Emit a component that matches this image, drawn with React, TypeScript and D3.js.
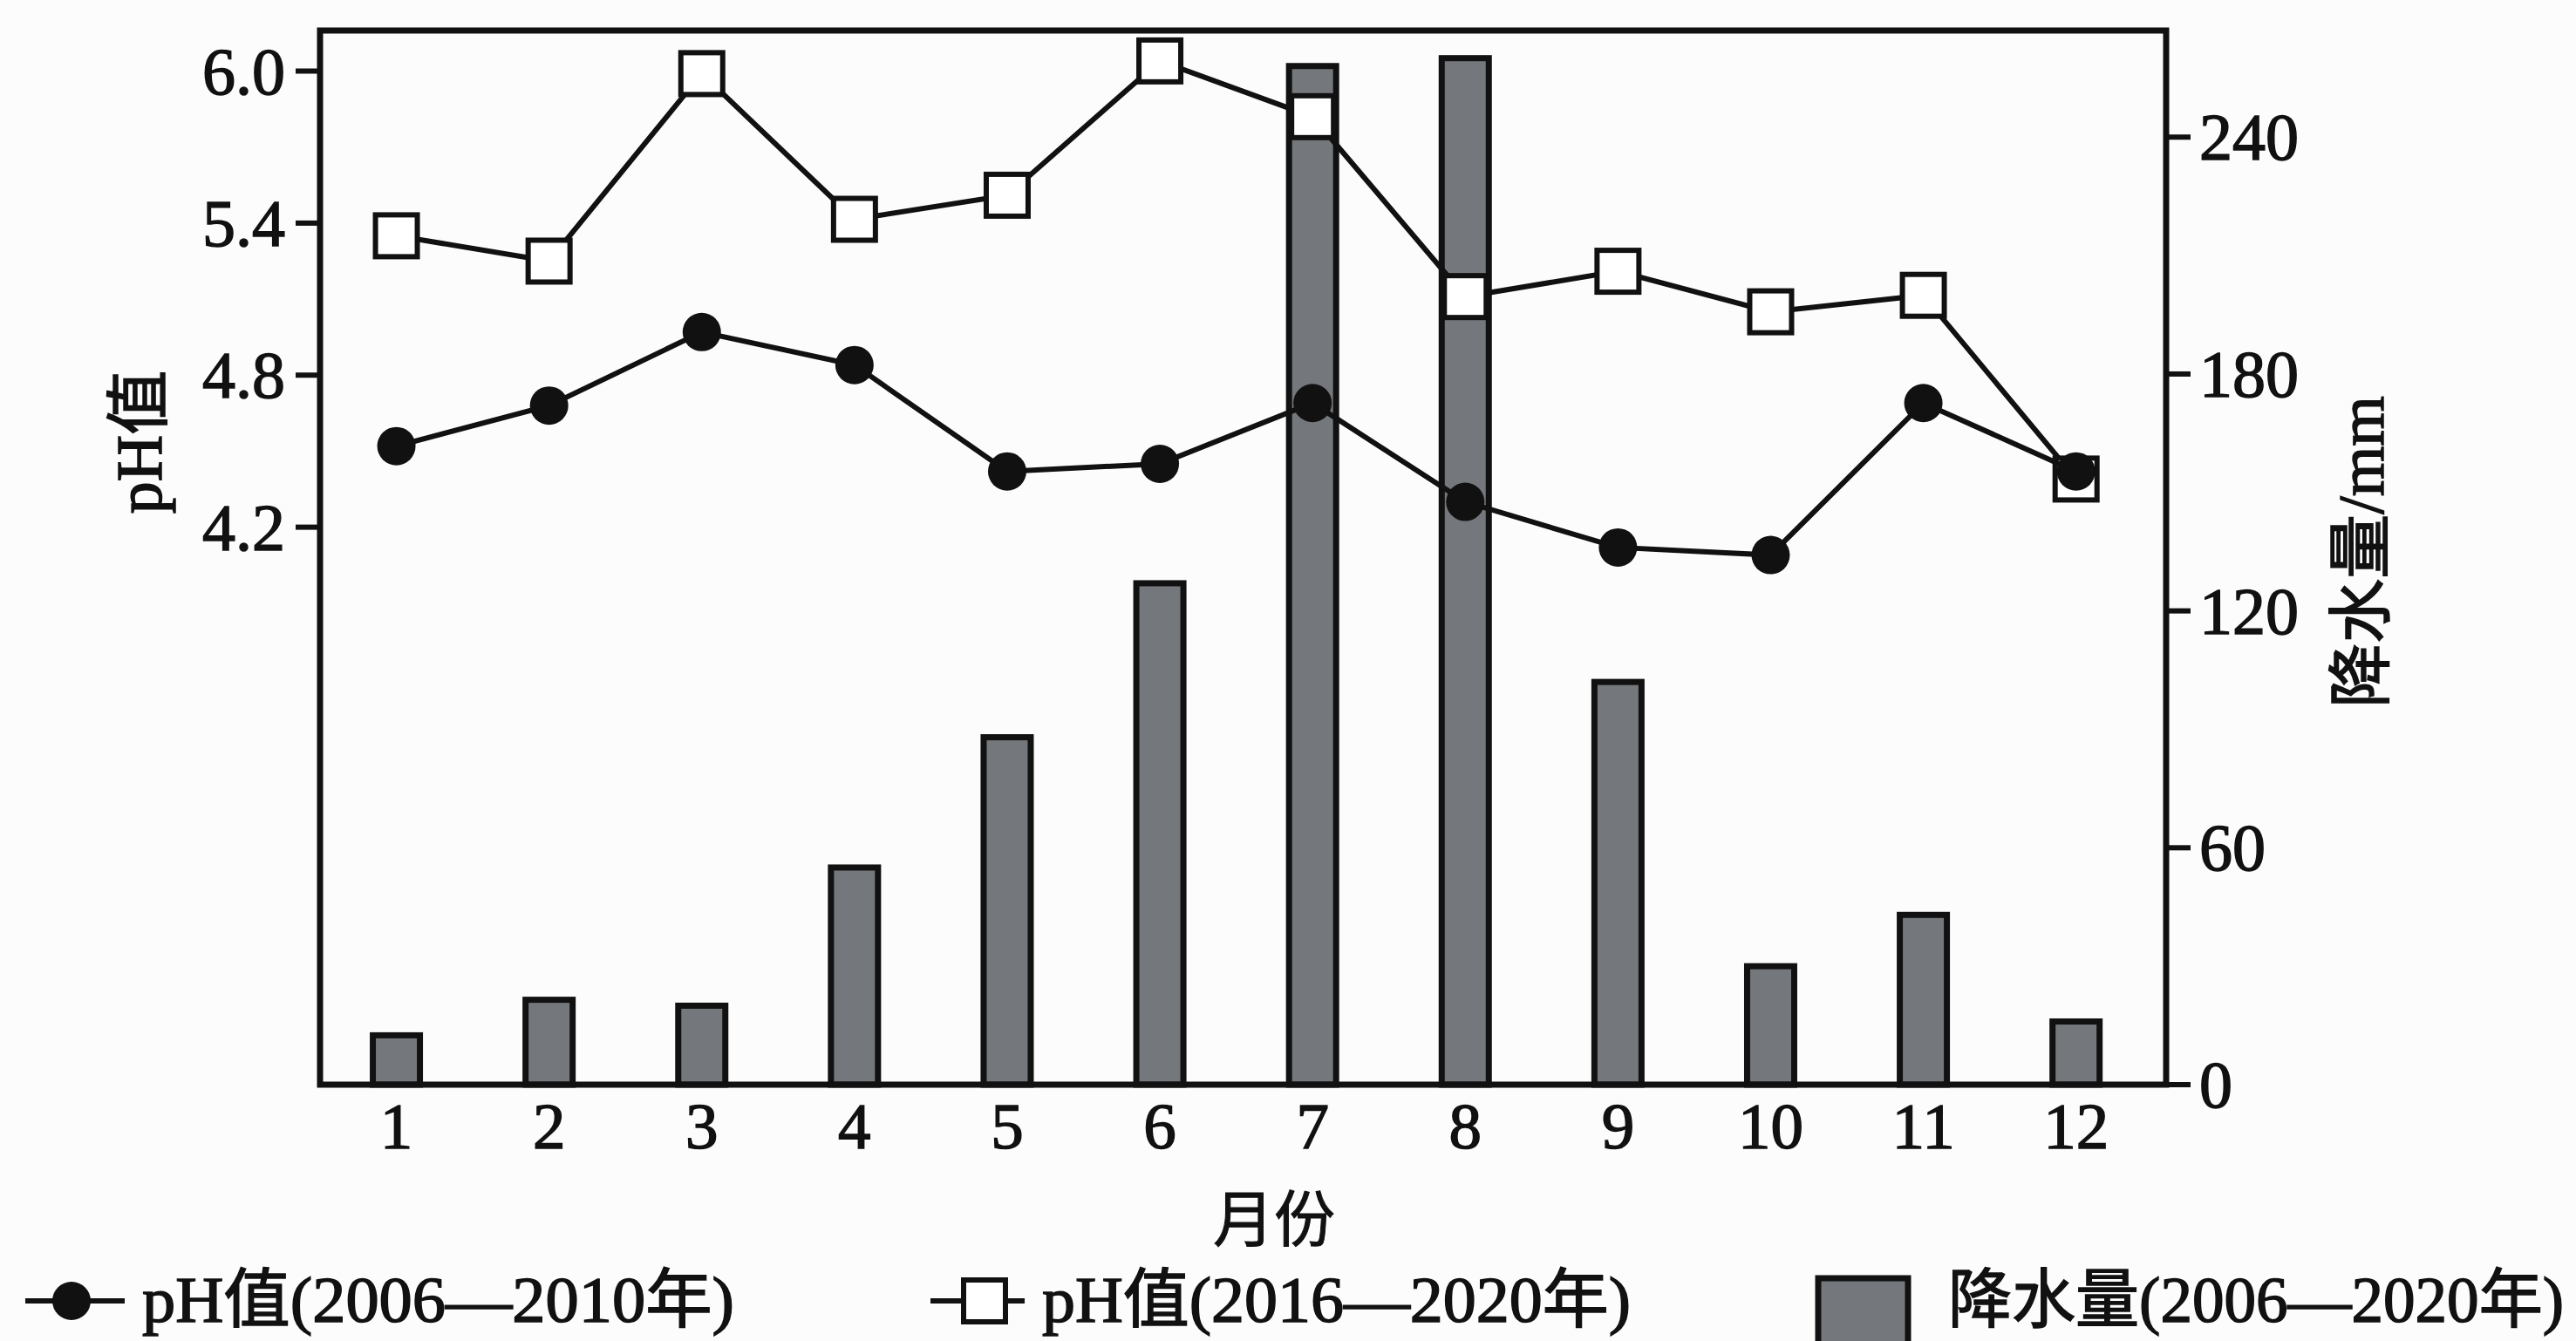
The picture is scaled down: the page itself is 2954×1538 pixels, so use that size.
import React, { useEffect } from "react";
import * as d3 from "d3";

// ---- data ----
const months = [1, 2, 3, 4, 5, 6, 7, 8, 9, 10, 11, 12];
const monthLabels = ["1", "2", "3", "4", "5", "6", "7", "8", "9", "10", "11", "12"];
const rainfall = [12.5, 21.5, 20, 55, 88, 127, 258, 260, 102, 30, 43, 16];
const ph2006_2010 = [4.52, 4.68, 4.97, 4.84, 4.42, 4.45, 4.69, 4.3, 4.12, 4.09, 4.69, 4.42];
const ph2016_2020 = [5.35, 5.25, 5.99, 5.415, 5.51, 6.04, 5.82, 5.11, 5.21, 5.05, 5.115, 4.39];
const phTicks = [4.2, 4.8, 5.4, 6.0];
const rainTicks = [0, 60, 120, 180, 240];
const legendLabels = ["pH值(2006—2010年)", "pH值(2016—2020年)", "降水量(2006—2020年)"];

const W = 2954;
const H = 1538;
const FONT = "'Liberation Serif', 'Noto Sans CJK SC', serif";
const INK = "#111";

export default function App() {
  useEffect(() => {
    document.body.style.margin = "0";
  }, []);

  const left = 367, right = 2484, top = 35, bottom = 1244;
  const x = d3.scaleLinear().domain([0.5, 12.59]).range([left, right]);
  const yPh = d3.scaleLinear().domain([2.0, 6.16]).range([bottom, top]);
  const yRain = d3.scaleLinear().domain([0, 267]).range([bottom, top]);

  const barW = 54;
  const sq = 48;
  const r = 22;

  const line = d3
    .line<number>()
    .x((_, i) => x(months[i]))
    .y((d) => yPh(d));

  const textProps = {
    fontFamily: FONT,
    fill: INK,
    stroke: INK,
    strokeWidth: 1.5,
  };

  const legendBase = 1516;
  const legendMid = 1492;

  return (
    <svg
      width={W}
      height={H}
      style={{ position: "absolute", left: 0, top: 0, display: "block" }}
    >
      <rect x={0} y={0} width={W} height={H} fill="#fcfcfc" />

      {/* bars */}
      <g>
        {rainfall.map((v, i) => (
          <rect
            key={"b" + i}
            x={x(months[i]) - barW / 2}
            y={yRain(v)}
            width={barW}
            height={yRain(0) - yRain(v)}
            fill="#74777b"
            stroke={INK}
            strokeWidth={7}
          />
        ))}
      </g>

      {/* frame */}
      <rect
        x={left}
        y={top}
        width={right - left}
        height={bottom - top}
        fill="none"
        stroke={INK}
        strokeWidth={7}
      />

      {/* left ticks */}
      {phTicks.map((t) => (
        <g key={"pt" + t}>
          <line x1={left - 28} x2={left} y1={yPh(t)} y2={yPh(t)} stroke={INK} strokeWidth={6} />
          <text
            {...textProps}
            x={left - 40}
            y={yPh(t)}
            fontSize={76}
            textAnchor="end"
            dominantBaseline="central"
          >
            {t.toFixed(1)}
          </text>
        </g>
      ))}

      {/* right ticks */}
      {rainTicks.map((t) => (
        <g key={"rt" + t}>
          <line x1={right} x2={right + 28} y1={yRain(t)} y2={yRain(t)} stroke={INK} strokeWidth={6} />
          <text
            {...textProps}
            x={right + 38}
            y={yRain(t)}
            fontSize={76}
            textAnchor="start"
            dominantBaseline="central"
          >
            {t}
          </text>
        </g>
      ))}

      {/* month labels */}
      {monthLabels.map((m, i) => (
        <text
          key={"m" + m}
          {...textProps}
          x={x(months[i])}
          y={1317}
          fontSize={75}
          textAnchor="middle"
        >
          {m}
        </text>
      ))}

      {/* axis titles */}
      <text
        {...textProps}
        x={1461}
        y={1400}
        fontSize={70}
        textAnchor="middle"
        dominantBaseline="central"
        strokeWidth={1}
      >
        月份
      </text>
      <text
        {...textProps}
        transform={`translate(160,507) rotate(-90)`}
        fontSize={74}
        textAnchor="middle"
        dominantBaseline="central"
      >
        pH值
      </text>
      <text
        {...textProps}
        transform={`translate(2708,633) rotate(-90)`}
        fontSize={74}
        textAnchor="middle"
        dominantBaseline="central"
      >
        降水量/mm
      </text>

      {/* 2016-2020 line + squares */}
      <path d={line(ph2016_2020) || ""} fill="none" stroke={INK} strokeWidth={6} />
      {ph2016_2020.map((v, i) => (
        <rect
          key={"s" + i}
          x={x(months[i]) - sq / 2}
          y={yPh(v) - sq / 2}
          width={sq}
          height={sq}
          fill="#fff"
          stroke={INK}
          strokeWidth={6}
        />
      ))}

      {/* 2006-2010 line + circles */}
      <path d={line(ph2006_2010) || ""} fill="none" stroke={INK} strokeWidth={6} />
      {ph2006_2010.map((v, i) => (
        <circle key={"c" + i} cx={x(months[i])} cy={yPh(v)} r={r} fill={INK} />
      ))}

      {/* legend */}
      <g>
        <line x1={29} x2={143} y1={legendMid} y2={legendMid} stroke={INK} strokeWidth={6} />
        <circle cx={82} cy={legendMid} r={r} fill={INK} />
        <text {...textProps} x={163} y={legendBase} fontSize={74} textLength={679} lengthAdjust="spacingAndGlyphs">
          {legendLabels[0]}
        </text>

        <line x1={1067} x2={1175} y1={legendMid} y2={legendMid} stroke={INK} strokeWidth={6} />
        <rect x={1129 - sq / 2} y={legendMid - sq / 2} width={sq} height={sq} fill="#fff" stroke={INK} strokeWidth={6} />
        <text {...textProps} x={1195} y={legendBase} fontSize={74} textLength={675} lengthAdjust="spacingAndGlyphs">
          {legendLabels[1]}
        </text>

        <rect x={2085} y={1466} width={103} height={80} fill="#74777b" stroke={INK} strokeWidth={7} />
        <text {...textProps} x={2234} y={legendBase} fontSize={74} textLength={706} lengthAdjust="spacingAndGlyphs">
          {legendLabels[2]}
        </text>
      </g>
    </svg>
  );
}
